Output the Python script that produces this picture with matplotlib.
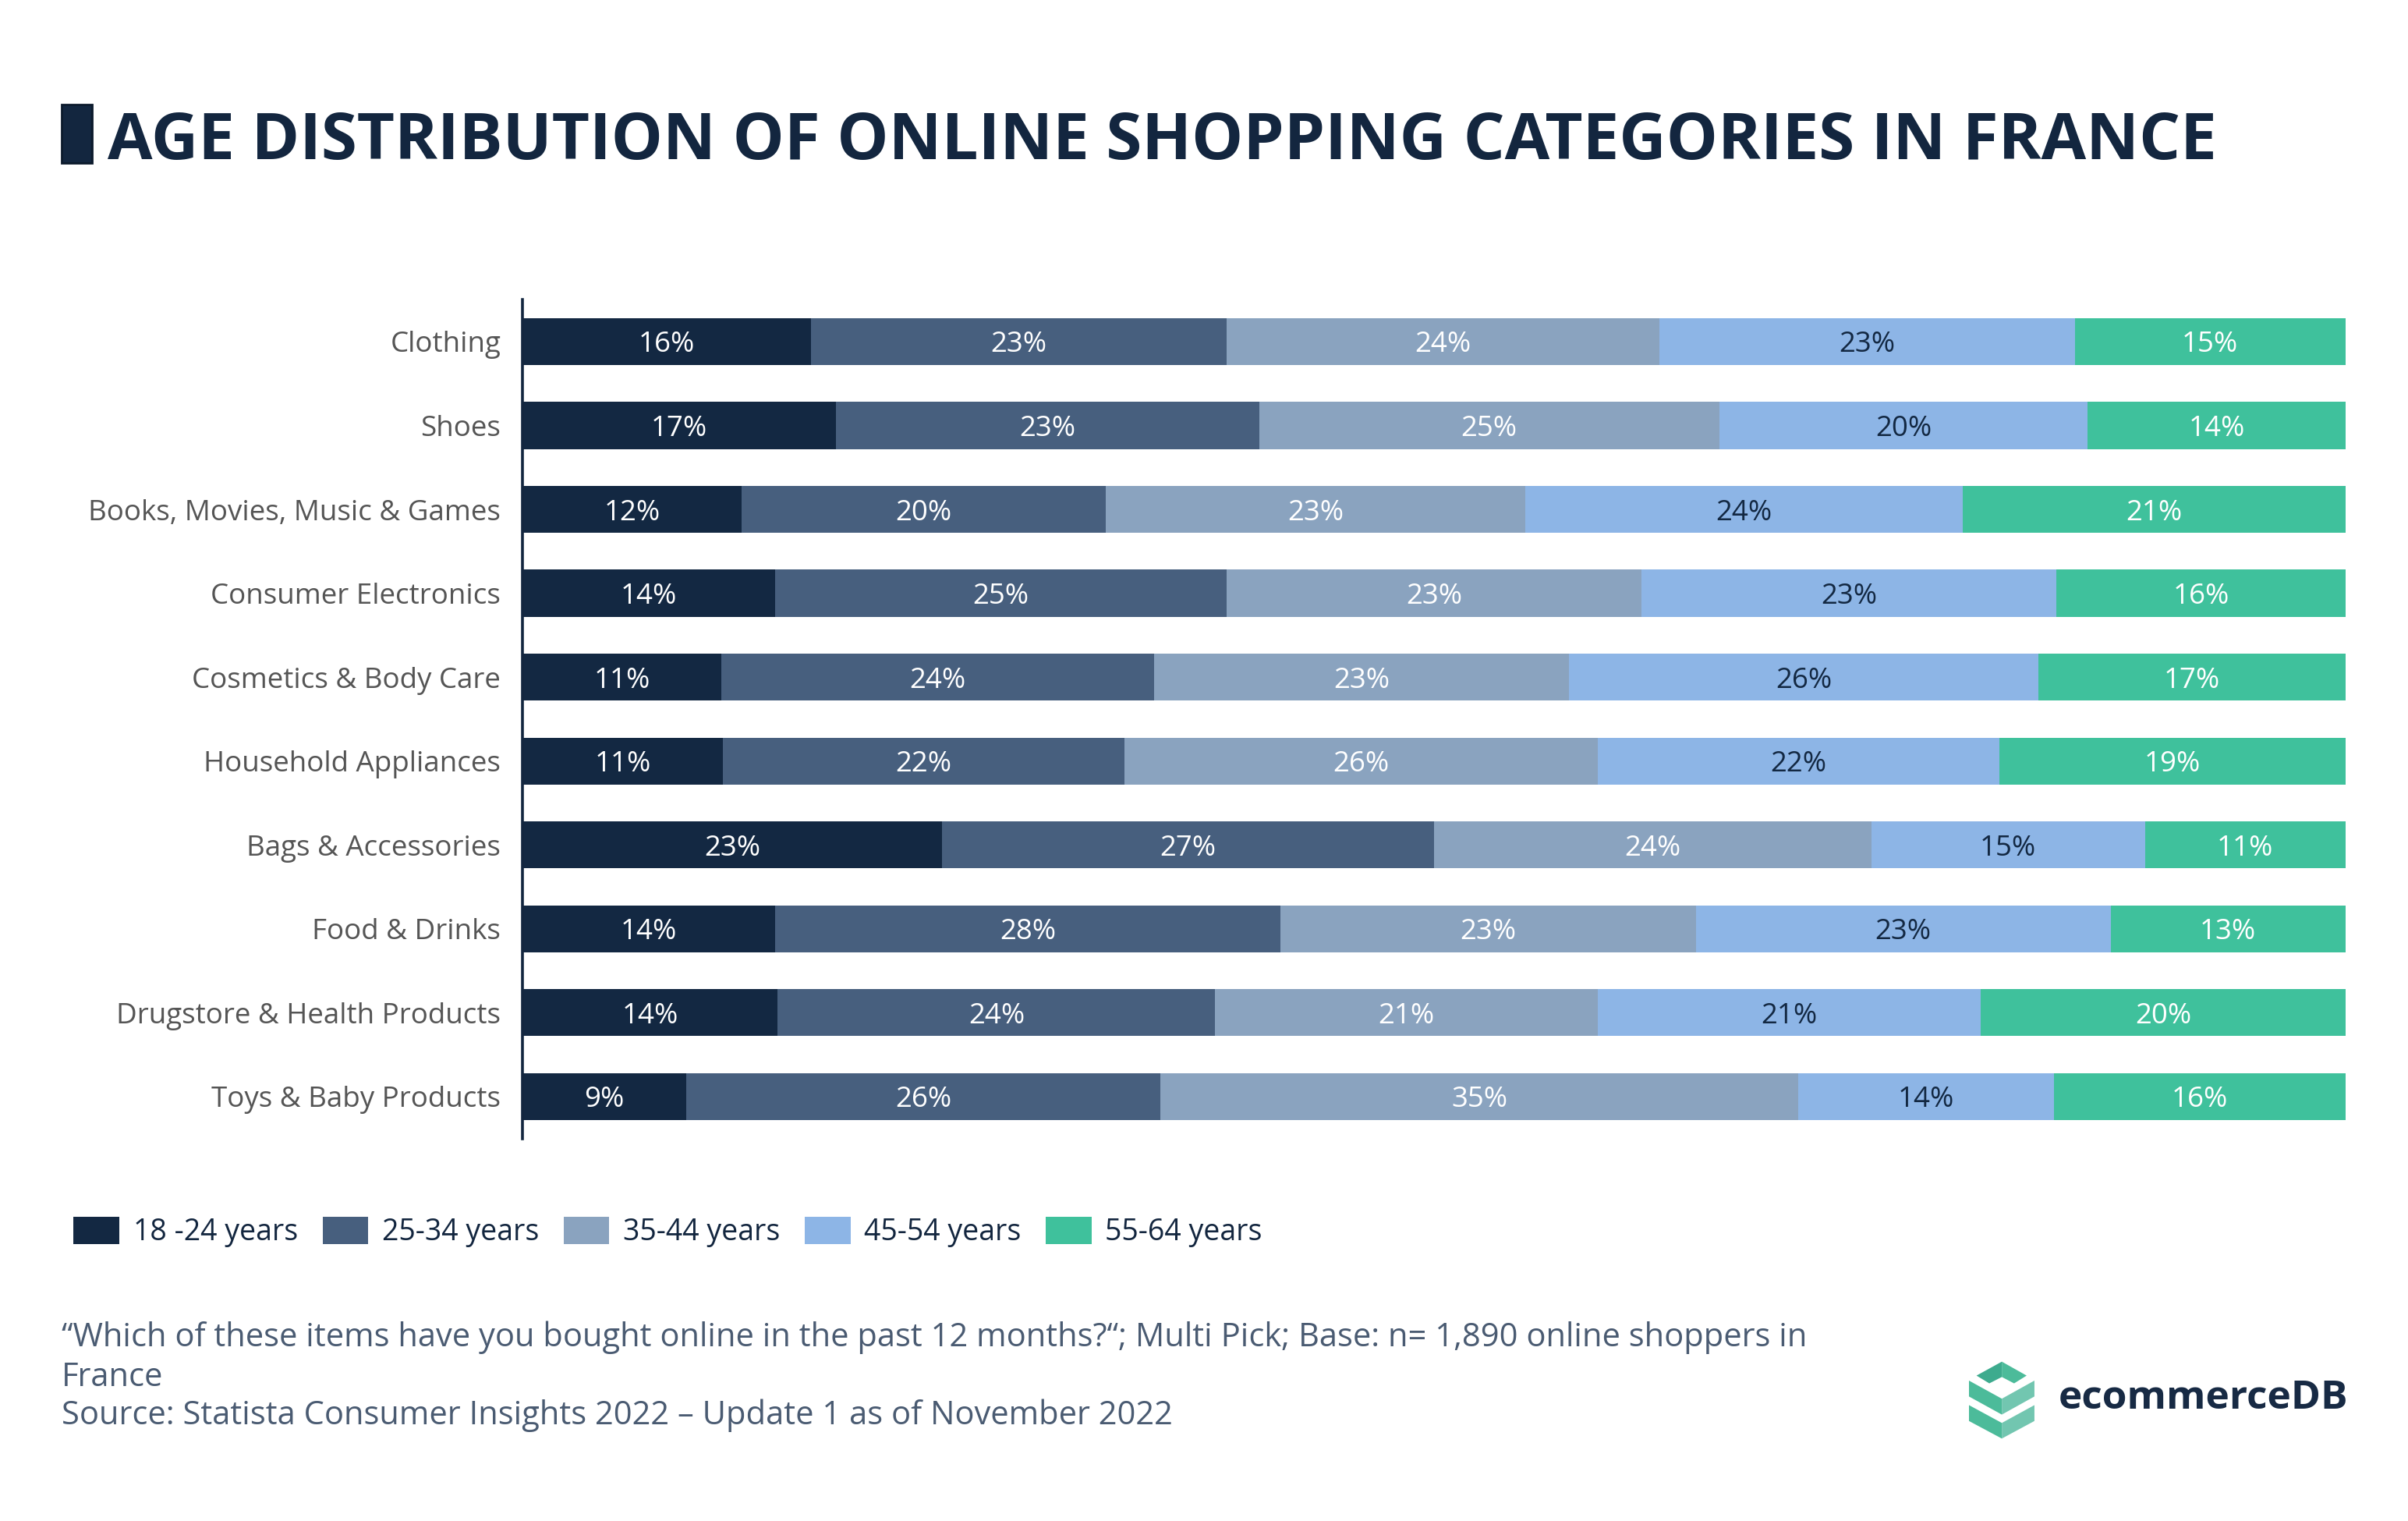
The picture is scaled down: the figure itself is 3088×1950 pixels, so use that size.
import numpy as np
import matplotlib.pyplot as plt
from matplotlib.patches import Rectangle, Polygon

plt.rcParams['font.family'] = ['Open Sans', 'DejaVu Sans']

# data
categories = ["Clothing", "Shoes", "Books, Movies, Music & Games", "Consumer Electronics",
              "Cosmetics & Body Care", "Household Appliances", "Bags & Accessories",
              "Food & Drinks", "Drugstore & Health Products", "Toys & Baby Products"]
age_groups = ["18 -24 years", "25-34 years", "35-44 years", "45-54 years", "55-64 years"]
age_18_24 = [16, 17, 12, 14, 11, 11, 23, 14, 14, 9]
age_25_34 = [23, 23, 20, 25, 24, 22, 27, 28, 24, 26]
age_35_44 = [24, 25, 23, 23, 23, 26, 24, 23, 21, 35]
age_45_54 = [23, 20, 24, 23, 26, 22, 15, 23, 21, 14]
age_55_64 = [15, 14, 21, 16, 17, 19, 11, 13, 20, 16]

colors = ["#132842", "#475f7e", "#8aa3bf", "#8db5e6", "#3fc19c"]
label_colors = ["white", "white", "white", "#132842", "white"]
navy = "#13263f"

series = np.array([age_18_24, age_25_34, age_35_44, age_45_54, age_55_64], dtype=float)
shares = series / series.sum(axis=0) * 100  # 100% stacked

fig = plt.figure(figsize=(15.44, 9.75), dpi=200)
ax = fig.add_axes([0.217, 0.2515, 0.757, 0.5515])

y = np.arange(len(categories))
left = np.zeros(len(categories))
for i in range(5):
    ax.barh(y, shares[i], left=left, height=0.56, color=colors[i], label=age_groups[i])
    for j in range(len(categories)):
        ax.text(left[j] + shares[i][j] / 2, y[j], "%d%%" % series[i][j],
                ha="center", va="center_baseline", fontsize=13.2, color=label_colors[i])
    left += shares[i]

ax.set_xlim(0, 100)
ax.set_ylim(len(categories) - 0.5, -0.5)
ax.set_yticks(y)
ax.set_yticklabels(categories, fontsize=13.25, color="#555555", va="center_baseline")
ax.tick_params(axis="y", length=0, pad=10)
ax.set_xticks([])
for s in ["top", "right", "bottom"]:
    ax.spines[s].set_visible(False)
ax.spines["left"].set_color(navy)
ax.spines["left"].set_linewidth(1.3)

# title
fig.patches.append(Rectangle((0.0256, 0.8928), 0.0125, 0.0385, transform=fig.transFigure,
                             facecolor=navy, edgecolor="#0c1a2c", linewidth=1))
fig.text(0.0447, 0.9115, "AGE DISTRIBUTION OF ONLINE SHOPPING CATEGORIES IN FRANCE",
         fontsize=30, fontweight="bold", color=navy, ha="left", va="center_baseline")

# legend
fig.legend(loc="center left", bbox_to_anchor=(0.0306, 0.19), ncol=5, frameon=False,
           fontsize=13.5, handlelength=1.56, handleheight=1.05, handletextpad=0.47,
           columnspacing=0.85, borderpad=0, borderaxespad=0, labelcolor=navy)

# footer
foot = "#4a5b72"
fig.text(0.0256, 0.1232, "\u201cWhich of these items have you bought online in the past 12 months?\u201c; "
         "Multi Pick; Base: n= 1,890 online shoppers in", fontsize=15, color=foot,
         va="center_baseline")
fig.text(0.0256, 0.097, "France", fontsize=15, color=foot, va="center_baseline")
fig.text(0.0256, 0.0717, "Source: Statista Consumer Insights 2022 \u2013 Update 1 as of November 2022",
         fontsize=15, color=foot, va="center_baseline")

# logo
lax = fig.add_axes([2500 / 3088, 1 - 1880 / 1950, 560 / 3088, 160 / 1950])
lax.set_xlim(0, 1568)
lax.set_ylim(448, 0)
lax.axis("off")
shapes = [
    ([(97, 122), (188, 72), (188, 127), (143, 150)], "#3dab8e"),
    ([(188, 72), (277, 122), (232, 150), (188, 127)], "#4cbb9a"),
    ([(70, 140), (188, 205), (188, 262), (70, 197)], "#4cbb9a"),
    ([(188, 205), (305, 140), (305, 197), (188, 262)], "#72c6b0"),
    ([(70, 228), (188, 292), (188, 348), (70, 285)], "#4cbb9a"),
    ([(188, 292), (305, 228), (305, 285), (188, 348)], "#72c6b0"),
]
for pts, c in shapes:
    lax.add_patch(Polygon(pts, closed=True, facecolor=c, edgecolor="none"))
lax.text(390, 205, "ecommerceDB", fontsize=18.5, fontweight="bold", color="#172a44",
         ha="left", va="center")

plt.savefig("out.png", dpi=200)
